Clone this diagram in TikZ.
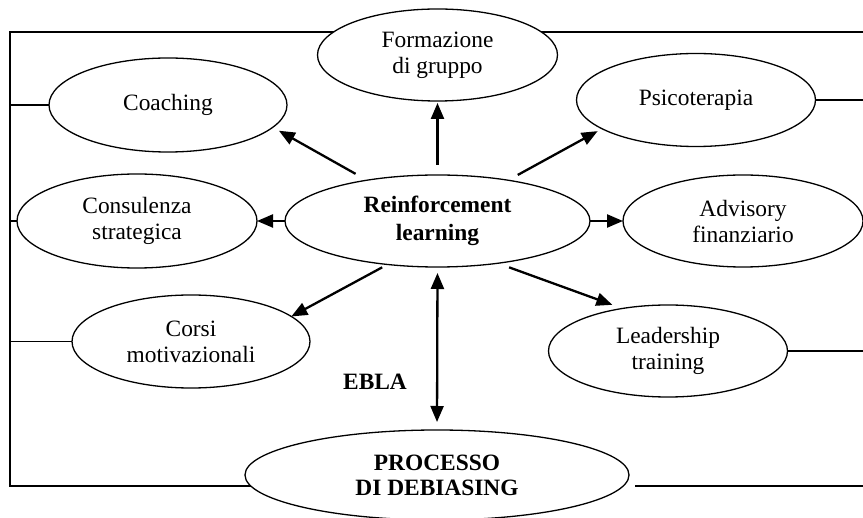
\documentclass[tikz,border=0pt]{standalone}
\usepackage{fontspec}
\setmainfont{Liberation Serif}
\usetikzlibrary{shapes.geometric,arrows.meta,backgrounds}

\tikzset{
  bubble/.style={ellipse, draw, line width=1.3pt, fill=white, inner sep=0pt,
    outer sep=0pt, align=center, minimum width=240pt, minimum height=93pt,
    font=\fontsize{23.4}{26}\selectfont},
  hub/.style={bubble, font=\fontsize{23.4}{28}\selectfont\bfseries},
  frame/.style={line width=1.6pt},
  arr/.style={line width=2.3pt, -{Triangle[length=16pt,width=13pt]}},
  biarr/.style={line width=2.3pt, {Triangle[length=16pt,width=13pt]}-{Triangle[length=16pt,width=13pt]}}
}

\begin{document}
\begin{tikzpicture}[x=1pt,y=-1pt]
  \useasboundingbox (0,0) rectangle (863,518);

  % outer frame corners
  \coordinate (tl) at (10,32);
  \coordinate (tr) at (863,32);
  \coordinate (bl) at (10,486);
  \coordinate (br) at (863,486);
  \coordinate (brs) at (635,486);

  % activities around the hub
  \node[bubble, minimum width=240pt, minimum height=92pt] (form)  at (437.5,55)  {Formazione\\di gruppo};
  \node[bubble, minimum width=238pt, minimum height=94pt] (coach) at (168,105)   {Coaching};
  \node[bubble, minimum width=239pt, minimum height=93pt] (psico) at (696,100)   {Psicoterapia};
  \node[bubble, minimum width=240pt, minimum height=94pt] (cons)  at (137,221)   {Consulenza\\strategica};
  \node[hub,    minimum width=305pt, minimum height=92pt] (rl)    at (437.5,221) {Reinforcement\\learning};
  \node[bubble, minimum width=240pt, minimum height=92pt] (adv)   at (743,221)   {Advisory\\finanziario};
  \node[bubble, minimum width=238pt, minimum height=93pt] (corsi) at (191,341.5) {Corsi\\motivazionali};
  \node[bubble, minimum width=239pt, minimum height=92pt] (lead)  at (668,351)   {Leadership\\training};
  \node[hub,    minimum width=384pt, minimum height=90pt, font=\fontsize{23.4}{25}\selectfont\bfseries] (proc) at (437,475) {PROCESSO\\DI DEBIASING};

  \node[font=\fontsize{23.4}{26}\selectfont\bfseries, inner sep=0pt] (ebla) at (375,382) {EBLA};

  % frame lines, passing behind the filled ellipses
  \begin{scope}[on background layer]
    \draw[frame] (tr) -- (tl) -- (bl) -- (bl -| proc.center);
  \end{scope}
  \draw[frame] (brs) -- (br);
  \draw[frame] (tl |- coach.center) -- (coach);
  \draw[frame] (tl |- cons.center) -- (cons);
  \draw[frame] (tl |- corsi.center) -- (corsi);
  \draw[frame] (psico) -- (tr |- psico.center);
  \draw[frame] (lead) -- (tr |- lead.center);

  % arrows out of the hub
  \draw[arr, shorten <=10pt, shorten >=2pt] (rl.north) -- (form.south);
  \draw[arr, shorten <=13pt, shorten >=7pt] (rl.150.5) -- (coach.-12.9);
  \draw[arr, shorten <=11pt, shorten >=5pt] (rl.30) -- (psico.197.5);
  \draw[arr] (rl.west) -- (cons.east);
  \draw[arr] (rl.east) -- (adv.west);
  \draw[arr, shorten <=6pt] (rl.221.7) -- (corsi.14.5);
  \draw[arr, shorten <=12pt, shorten >=10.7pt] (rl.-35.4) -- (lead.137.4);
  \draw[biarr, shorten <=6pt, shorten >=8pt] (rl.south) -- (proc.north);
\end{tikzpicture}
\end{document}
